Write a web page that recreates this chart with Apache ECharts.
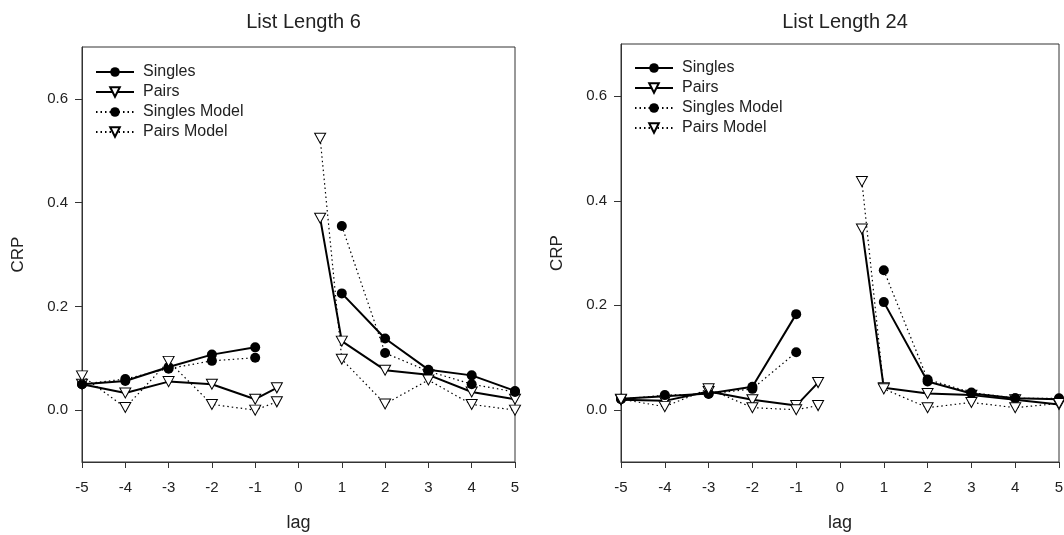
<!DOCTYPE html>
<html>
<head>
<meta charset="utf-8">
<script src="https://cdn.jsdelivr.net/npm/echarts@6/dist/echarts.min.js"></script>
<style>
  html, body { margin: 0; padding: 0; background: #fff; }
  #chart { width: 1064px; height: 535px; }
</style>
</head>
<body>
<div id="chart"></div>
<script>
// lag positions; the 0 entry holds a null so the line breaks there
const singleLags = [-5, -4, -3, -2, -1, 0, 1, 2, 3, 4, 5];
const pairLags = [-5, -4, -3, -2, -1, -0.5, 0, 0.5, 1, 2, 3, 4, 5];

// List Length 6
const singles6 = [0.050, 0.056, 0.083, 0.107, 0.121, null, 0.225, 0.138, 0.078, 0.067, 0.037];
const singlesModel6 = [0.050, 0.060, 0.080, 0.095, 0.101, null, 0.355, 0.110, 0.075, 0.050, 0.035];
const pairs6 = [0.050, 0.033, 0.055, 0.050, 0.021, 0.043, null, 0.370, 0.133, 0.077, 0.068, 0.035, 0.021];
const pairsModel6 = [0.066, 0.005, 0.094, 0.011, 0.000, 0.016, null, 0.524, 0.098, 0.012, 0.058, 0.011, 0.000];

// List Length 24
const singles24 = [0.021, 0.026, 0.031, 0.044, 0.183, null, 0.206, 0.054, 0.031, 0.022, 0.020];
const singlesModel24 = [0.020, 0.028, 0.030, 0.040, 0.110, null, 0.267, 0.058, 0.033, 0.022, 0.022];
const pairs24 = [0.019, 0.017, 0.035, 0.019, 0.008, 0.052, null, 0.346, 0.042, 0.031, 0.028, 0.019, 0.010];
const pairsModel24 = [0.020, 0.006, 0.040, 0.004, 0.000, 0.008, null, 0.437, 0.040, 0.004, 0.014, 0.004, 0.012];

const titles = ['List Length 6', 'List Length 24'];
const xTicks = [-5, -4, -3, -2, -1, 0, 1, 2, 3, 4, 5];
const yTicks = [0, 0.2, 0.4, 0.6];

const FONT = 'Liberation Sans, Arial, sans-serif';
const TRI_DOWN = 'path://M0,0L10,0L5,9Z';

const zip = (xs, ys) => xs.map((x, i) => [x, ys[i] == null ? '-' : ys[i]]);

const grids = [
  { left: 82, top: 47, width: 433, height: 415 },
  { left: 621, top: 44, width: 438, height: 418 }
];

function makeSeries(idx, s, sm, p, pm) {
  const base = { type: 'line', xAxisIndex: idx, yAxisIndex: idx, connectNulls: false, animation: false };
  return [
    Object.assign({}, base, {
      name: 'Singles', data: zip(singleLags, s),
      symbol: 'circle', symbolSize: 10,
      itemStyle: { color: '#000' },
      lineStyle: { color: '#000', width: 2 }
    }),
    Object.assign({}, base, {
      name: 'Pairs', data: zip(pairLags, p),
      symbol: TRI_DOWN, symbolSize: [11, 10],
      itemStyle: { color: '#fff', borderColor: '#000', borderWidth: 1 },
      lineStyle: { color: '#000', width: 2 }
    }),
    Object.assign({}, base, {
      name: 'Singles Model', data: zip(singleLags, sm),
      symbol: 'circle', symbolSize: 10,
      itemStyle: { color: '#000' },
      lineStyle: { color: '#000', width: 1.2, type: [1.5, 3] }
    }),
    Object.assign({}, base, {
      name: 'Pairs Model', data: zip(pairLags, pm),
      symbol: TRI_DOWN, symbolSize: [11, 10],
      itemStyle: { color: '#fff', borderColor: '#000', borderWidth: 1 },
      lineStyle: { color: '#000', width: 1.2, type: [1.5, 3] }
    })
  ];
}

const chart = echarts.init(document.getElementById('chart'));

const option = {
  backgroundColor: '#fff',
  textStyle: { fontFamily: FONT },
  title: titles.map((t, i) => ({
    text: t,
    left: grids[i].left + grids[i].width / 2,
    textAlign: 'center',
    top: 7,
    textStyle: { fontFamily: FONT, fontSize: 20, fontWeight: 'normal', color: '#222' }
  })),
  legend: [
    { left: 90, top: 59 },
    { left: 629, top: 55 }
  ].map(pos => Object.assign({
    orient: 'vertical',
    itemWidth: 38,
    itemHeight: 12,
    itemGap: 4,
    selectedMode: false,
    data: ['Singles', 'Pairs', 'Singles Model', 'Pairs Model'],
    textStyle: { fontFamily: FONT, fontSize: 16, color: '#222', padding: [0, 0, 0, 4] }
  }, pos)),
  grid: grids.map(g => Object.assign({
    show: true, borderColor: '#333', borderWidth: 1,
    containLabel: false, outerBoundsMode: 'none'
  }, g)),
  xAxis: grids.map((g, i) => ({
    type: 'value',
    gridIndex: i,
    min: -5,
    max: 5,
    interval: 1,
    name: 'lag',
    nameLocation: 'middle',
    nameGap: 52,
    nameTextStyle: { fontFamily: FONT, fontSize: 18, color: '#222' },
    axisLine: { show: true, onZero: false, lineStyle: { color: '#333', width: 1 } },
    axisTick: { show: true, length: 6, inside: false, customValues: xTicks, lineStyle: { color: '#333' } },
    axisLabel: { customValues: xTicks, margin: 18, fontSize: 15, color: '#222', fontFamily: FONT },
    splitLine: { show: false }
  })),
  yAxis: grids.map((g, i) => ({
    type: 'value',
    gridIndex: i,
    min: -0.1,
    max: 0.7,
    name: 'CRP',
    nameLocation: 'middle',
    nameRotate: 90,
    nameGap: 55,
    nameTextStyle: { fontFamily: FONT, fontSize: 17, color: '#222' },
    axisLine: { show: true, onZero: false, lineStyle: { color: '#333', width: 1 } },
    axisTick: { show: true, length: 7, customValues: yTicks, lineStyle: { color: '#333' } },
    axisLabel: {
      customValues: yTicks, margin: 14, fontSize: 15, color: '#222', fontFamily: FONT,
      formatter: v => v.toFixed(1)
    },
    splitLine: { show: false }
  })),
  series: [
    ...makeSeries(0, singles6, singlesModel6, pairs6, pairsModel6),
    ...makeSeries(1, singles24, singlesModel24, pairs24, pairsModel24)
  ]
};

chart.setOption(option);
</script>
</body>
</html>
